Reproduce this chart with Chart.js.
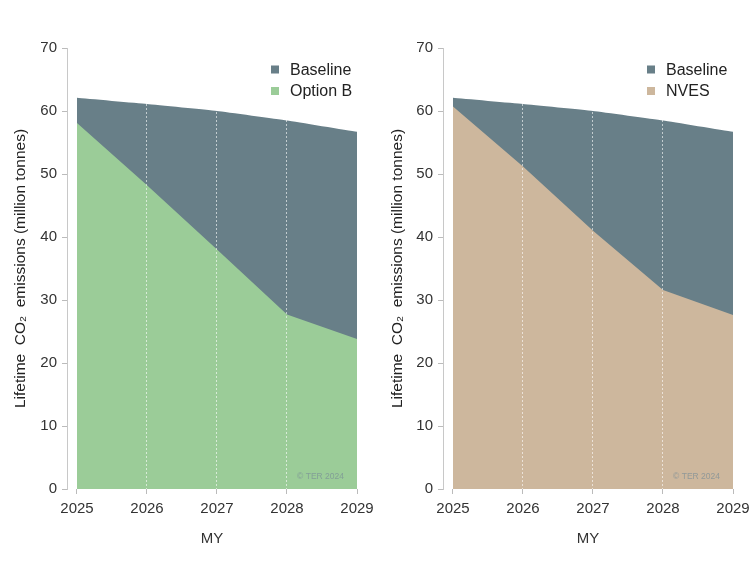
<!DOCTYPE html>
<html>
<head>
<meta charset="utf-8">
<script src="https://cdn.jsdelivr.net/npm/chart.js@4.4.1/dist/chart.umd.min.js"></script>
<style>
  html, body { margin: 0; padding: 0; background: #fff; }
  .panel { position: absolute; top: 0; width: 377px; height: 566px; }
  #left { left: 0; }
  #right { left: 377px; }
</style>
</head>
<body>
<div class="panel" id="left"><canvas id="chartB"></canvas></div>
<div class="panel" id="right"><canvas id="chartN"></canvas></div>
<script>
const years = [2025, 2026, 2027, 2028, 2029];
const baseline = [62.1, 61.1, 60.0, 58.5, 56.7];
const optionB = [58.1, 48.2, 38.0, 27.7, 23.8];
const nves = [60.7, 51.2, 41.0, 31.6, 27.6];
const yTicks = [0, 10, 20, 30, 40, 50, 60, 70];

const FONT = "'Liberation Sans', Arial, sans-serif";
const baselineColor = '#687f88';

function points(values) {
    return years.map((y, i) => ({ x: y, y: values[i] }));
}

// legend + watermark drawn inside the plot
const insideLegend = {
    id: 'insideLegend',
    afterDraw(chart) {
        const { ctx, chartArea } = chart;
        const items = chart.data.datasets;
        ctx.save();
        ctx.font = '16px ' + FONT;
        ctx.textBaseline = 'middle';
        items.forEach((ds, i) => {
            const y = chartArea.top + 21.5 + i * 21.5;
            ctx.fillStyle = ds.backgroundColor;
            ctx.fillRect(chartArea.right - 86, y - 4, 8, 8);
            ctx.fillStyle = '#222';
            ctx.fillText(ds.label, chartArea.right - 67, y + 1);
        });
        ctx.font = '8.5px ' + FONT;
        ctx.fillStyle = 'rgba(120,140,150,0.7)';
        ctx.textAlign = 'right';
        ctx.fillText('\u00a9 TER 2024', chartArea.right - 13, chartArea.bottom - 12);
        ctx.restore();
    }
};

function createEmissionsChart(canvasId, label, values, color, axisWidth, padRight) {
    const ctx = document.getElementById(canvasId).getContext('2d');
    return new Chart(ctx, {
        type: 'line',
        data: {
            datasets: [{
                label: 'Baseline',
                data: points(baseline),
                backgroundColor: baselineColor,
                borderWidth: 0,
                pointRadius: 0,
                fill: 'origin',
                tension: 0.1,
                order: 2
            }, {
                label: label,
                data: points(values),
                backgroundColor: color,
                borderWidth: 0,
                pointRadius: 0,
                fill: 'origin',
                order: 1
            }]
        },
        options: {
            responsive: true,
            maintainAspectRatio: false,
            animation: false,
            layout: { padding: { left: 0, right: padRight, top: 48, bottom: 0 } },
            plugins: {
                legend: { display: false },
                tooltip: { enabled: false }
            },
            scales: {
                x: {
                    type: 'linear',
                    min: 2025 - 10 / 70,
                    max: 2029,
                    afterBuildTicks: scale => {
                        scale.ticks = years.map(v => ({ value: v }));
                    },
                    afterFit: scale => {
                        scale.height = 77;
                        scale.paddingRight = 0;
                        scale.paddingLeft = 0;
                    },
                    grid: {
                        z: 1,
                        color: 'rgba(255,255,255,0.6)',
                        lineWidth: 1,
                        tickColor: '#bbbbbb',
                        tickLength: 5,
                        drawTicks: true
                    },
                    border: { display: false, dash: [2, 2] },
                    ticks: {
                        color: '#333',
                        font: { family: FONT, size: 15 },
                        padding: 6,
                        maxRotation: 0,
                        callback: v => String(v)
                    },
                    title: {
                        display: true,
                        text: 'MY',
                        color: '#333',
                        font: { family: FONT, size: 15 },
                        padding: { top: 0, bottom: 18 }
                    }
                },
                y: {
                    min: 0,
                    max: 70,
                    afterBuildTicks: scale => {
                        scale.ticks = yTicks.map(v => ({ value: v }));
                    },
                    afterFit: scale => { scale.width = axisWidth; },
                    grid: {
                        drawOnChartArea: false,
                        drawTicks: true,
                        tickColor: '#bbbbbb',
                        tickLength: 5
                    },
                    border: { display: true, color: '#c8c8c8' },
                    ticks: {
                        color: '#333',
                        font: { family: FONT, size: 15 },
                        padding: 5
                    },
                    title: {
                        display: true,
                        text: 'Lifetime  CO\u2082  emissions (million tonnes)',
                        color: '#222',
                        font: { family: FONT, size: 15.5 },
                        padding: { top: 11, bottom: 0 }
                    }
                }
            }
        },
        plugins: [insideLegend]
    });
}

createEmissionsChart('chartB', 'Option B', optionB, '#9bcc98', 67, 20);
createEmissionsChart('chartN', 'NVES', nves, '#cdb79d', 66, 21);
</script>
</body>
</html>
